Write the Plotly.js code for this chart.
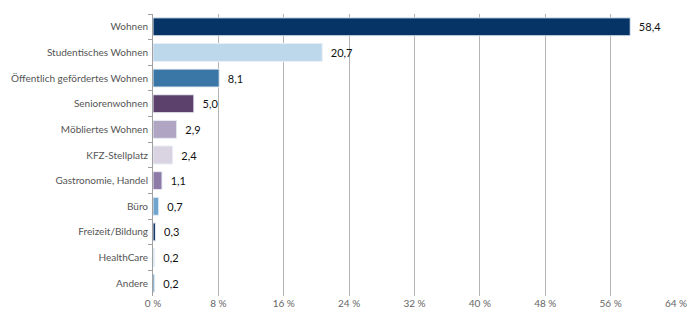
<!DOCTYPE html>
<html>
<head>
<meta charset="utf-8">
<script src="https://cdn.plot.ly/plotly-3.0.1.min.js"></script>
<style>html,body{margin:0;padding:0;background:#fff;}#chart{width:700px;height:325px;}</style>
</head>
<body>
<div id="chart"></div>
<script>
var categories = ["Wohnen","Studentisches Wohnen","Öffentlich gefördertes Wohnen","Seniorenwohnen","Möbliertes Wohnen","KFZ-Stellplatz","Gastronomie, Handel","Büro","Freizeit/Bildung","HealthCare","Andere"];
var values = [58.4,20.7,8.1,5.0,2.9,2.4,1.1,0.7,0.3,0.2,0.2];
var barColors = ["#063466","#bdd7eb","#3a77a7","#5b416c","#b1a5c4","#dad4e2","#8e7aa6","#6ea4cd","#0c2d5e","#d4e6f3","#3e80b1"];
var tickValues = [0,8,16,24,32,40,48,56,64];
var tickLabels = ["0 %","8 %","16 %","24 %","32 %","40 %","48 %","56 %","64 %"];

var labels = values.map(function(v){ return '\u00a0\u00a0' + v.toFixed(1).replace('.', ','); });

var trace = {
  type: 'bar',
  orientation: 'h',
  y: categories,
  x: values,
  text: labels,
  textposition: 'outside',
  cliponaxis: false,
  textfont: {family: 'Lato, "Open Sans", sans-serif', size: 11, color: '#111'},
  marker: {color: barColors, line: {color: '#e8eef5', width: 1}},
  hoverinfo: 'none'
};

var layout = {
  width: 700, height: 325,
  margin: {l: 153, r: 24, t: 14, b: 29},
  paper_bgcolor: '#fff', plot_bgcolor: '#fff',
  bargap: 0.3,
  showlegend: false,
  font: {family: 'Lato, "Open Sans", sans-serif', size: 11, color: '#555'},
  xaxis: {
    range: [0, 64],
    tickvals: tickValues,
    ticktext: tickLabels,
    showgrid: true,
    gridcolor: '#b3b3b3',
    gridwidth: 1,
    zeroline: false,
    showline: false,
    ticks: '',
    tickfont: {size: 10, color: '#666'},
    fixedrange: true
  },
  yaxis: {
    autorange: 'reversed',
    showline: true,
    linecolor: '#a0a0a0',
    linewidth: 1,
    ticks: 'outside',
    tickson: 'boundaries',
    ticklen: 4,
    tickcolor: '#a0a0a0',
    ticklabelstandoff: 2,
    tickfont: {size: 10, color: '#555'},
    showgrid: false,
    zeroline: false,
    fixedrange: true
  }
};

Plotly.newPlot('chart', [trace], layout, {displayModeBar: false, staticPlot: true});
</script>
</body>
</html>
